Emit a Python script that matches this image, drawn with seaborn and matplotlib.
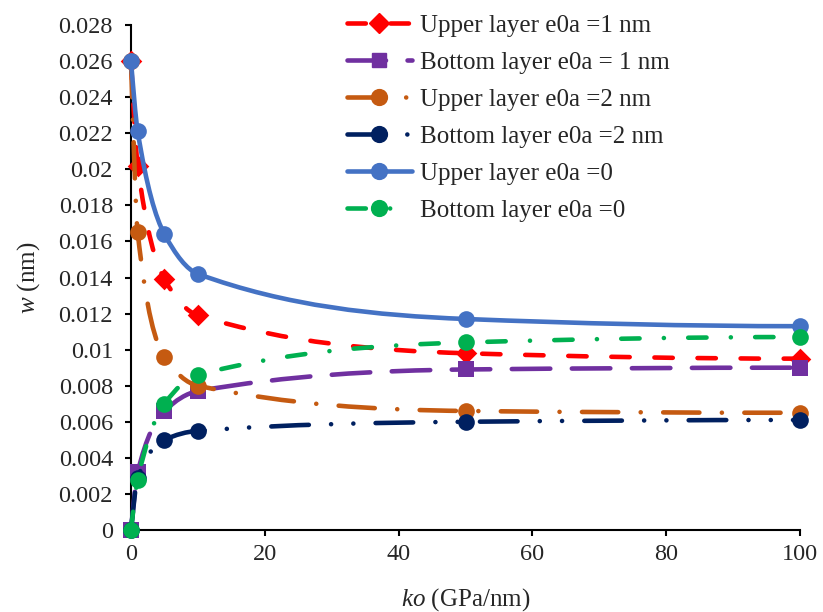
import numpy as np
import matplotlib
matplotlib.use('Agg')
import matplotlib.pyplot as plt
from matplotlib.path import Path
from matplotlib.patches import PathPatch
from matplotlib.lines import Line2D
import seaborn as sns

# data
ko = [0, 1, 5, 10, 50, 100]
upper_1nm = [0.0260, 0.0202, 0.0139, 0.0119, 0.0098, 0.0095]
bottom_1nm = [0.0, 0.0032, 0.0066, 0.0077, 0.0089, 0.0090]
upper_2nm = [0.0260, 0.0165, 0.0096, 0.0080, 0.0066, 0.0065]
bottom_2nm = [0.0, 0.0029, 0.0050, 0.0055, 0.0060, 0.0061]
upper_0 = [0.0260, 0.0221, 0.0164, 0.0142, 0.0117, 0.0113]
bottom_0 = [0.0, 0.0028, 0.0070, 0.0086, 0.0104, 0.0107]

labels = ['Upper layer e0a =1 nm', 'Bottom layer e0a = 1 nm', 'Upper layer e0a =2 nm',
          'Bottom layer e0a =2 nm', 'Upper layer e0a =0', 'Bottom layer e0a =0']
series = [upper_1nm, bottom_1nm, upper_2nm, bottom_2nm, upper_0, bottom_0]

x_ticks = [0, 20, 40, 60, 80, 100]
y_ticks = [0, 0.002, 0.004, 0.006, 0.008, 0.01, 0.012, 0.014, 0.016, 0.018,
           0.02, 0.022, 0.024, 0.026, 0.028]
y_tick_labels = ['0', '0.002', '0.004', '0.006', '0.008', '0.01', '0.012', '0.014',
                 '0.016', '0.018', '0.02', '0.022', '0.024', '0.026', '0.028']

# styles
colors = ['#FF0000', '#7030A0', '#C55A11', '#002060', '#4472C4', '#00B050']
markers = ['D', 's', 'o', 'o', 'o', 'o']
msizes = [11, 11, 12, 12, 12, 12]
dashes = [(4.0, 5.4),
          (8.4, 4.7),
          (7.9, 4.9, 0.01, 4.9),
          (8.2, 4.85, 0.01, 4.85, 0.01, 4.85),
          None,
          (4.0, 5.3, 0.01, 5.3)]
LW = 3.3


def smooth_path(xs, ys):
    """Bezier path through the points (monotone cubic handles)"""
    xs = np.asarray(xs, float)
    ys = np.asarray(ys, float)
    n = len(xs)
    h = np.diff(xs)
    d = np.diff(ys) / h
    m = np.zeros(n)
    for k in range(1, n - 1):
        if d[k - 1] * d[k] > 0:
            w1 = 2 * h[k] + h[k - 1]
            w2 = h[k] + 2 * h[k - 1]
            m[k] = (w1 + w2) / (w1 / d[k - 1] + w2 / d[k])
    for (i, a, b, ha, hb) in [(0, d[0], d[1], h[0], h[1]), (n - 1, d[-1], d[-2], h[-1], h[-2])]:
        v = ((2 * ha + hb) * a - ha * b) / (ha + hb)
        if np.sign(v) != np.sign(a):
            v = 0
        elif np.sign(a) != np.sign(b) and abs(v) > 3 * abs(a):
            v = 3 * a
        m[i] = v
    verts = [(xs[0], ys[0])]
    codes = [Path.MOVETO]
    for k in range(n - 1):
        t = h[k] / 3
        verts += [(xs[k] + t, ys[k] + m[k] * t),
                  (xs[k + 1] - t, ys[k + 1] - m[k + 1] * t),
                  (xs[k + 1], ys[k + 1])]
        codes += [Path.CURVE4] * 3
    return Path(verts, codes)


sns.set_style('ticks')
plt.rcParams['font.family'] = ['Liberation Serif', 'DejaVu Serif']
plt.rcParams['mathtext.fontset'] = 'custom'
plt.rcParams['mathtext.rm'] = 'Liberation Serif'
plt.rcParams['mathtext.it'] = 'Liberation Serif:italic'

fig = plt.figure(figsize=(8.23, 6.12), dpi=100)
ax = fig.add_axes([131 / 823, 82 / 612, 669 / 823, 505 / 612])

handles = []
for i, (vals, lab) in enumerate(zip(series, labels)):
    ls = '-' if dashes[i] is None else (0, dashes[i])
    patch = PathPatch(smooth_path(ko, vals), fill=False, edgecolor=colors[i], linewidth=LW,
                      linestyle=ls, capstyle='round', joinstyle='round', zorder=3 + i,
                      clip_on=False)
    ax.add_patch(patch)
    sns.scatterplot(x=ko, y=vals, ax=ax, marker=markers[i], s=msizes[i] ** 2,
                    color=colors[i], edgecolor=colors[i], linewidth=0,
                    zorder=3.5 + i, clip_on=False, legend=False)
    h = Line2D([], [], color=colors[i], linewidth=LW, marker=markers[i],
               markersize=msizes[i] * 0.95, solid_capstyle='round', dash_capstyle='round')
    if dashes[i] is not None:
        h.set_dashes(dashes[i])
    handles.append(h)

ax.set_xlim(0, 100)
ax.set_ylim(0, 0.028)
ax.set_xticks(x_ticks)
ax.set_yticks(y_ticks)
ax.set_yticklabels(y_tick_labels)
ax.tick_params(axis='both', labelsize=17.5, width=1.5, length=4, direction='out',
               color='black')
ax.tick_params(axis='x', pad=6)
ax.tick_params(axis='y', pad=9)
for side in ['left', 'bottom']:
    ax.spines[side].set_linewidth(1.5)
    ax.spines[side].set_color('black')
sns.despine(ax=ax)

ax.set_xlabel(r'$ko$ (GPa/nm)', fontsize=18, labelpad=15.5)
ax.set_ylabel(r'$w$ (nm)', fontsize=18, labelpad=12)

fig.legend(handles=handles, labels=labels, loc='upper left', bbox_to_anchor=(329 / 823, 1.005),
           frameon=False, fontsize=18, handlelength=2.6, handletextpad=0.32,
           labelspacing=0.58, borderpad=0.2)

plt.savefig('out.png', dpi=100)
plt.close()
